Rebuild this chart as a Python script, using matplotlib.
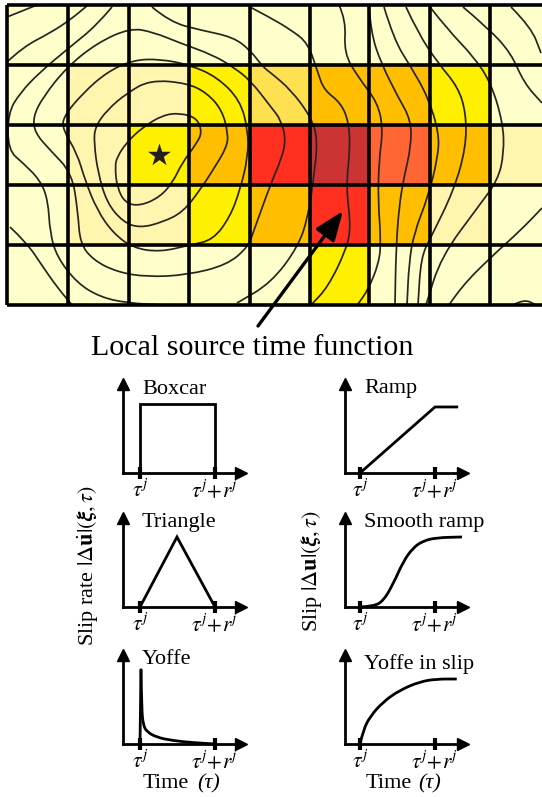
import matplotlib
matplotlib.use('Agg')
import matplotlib.pyplot as plt
from matplotlib.colors import ListedColormap
from matplotlib.patches import PathPatch
from matplotlib.path import Path
import numpy as np

W, H = 542, 797

plt.rcParams['font.family'] = ['Liberation Serif', 'DejaVu Serif']
plt.rcParams['mathtext.fontset'] = 'stix'

# slip patches, cell edges in image pixels
x_edges = [7, 68, 129, 189, 250, 310, 369, 430, 490, 551]
y_edges = [5, 65, 125, 185, 245, 305]
slip_colors = ['#FFFFCC', '#FFF5AE', '#FFF000', '#FFE050', '#FFBE00', '#FF6633', '#FF3020', '#CC3333']
slip_levels = [
	[0, 0, 0, 0, 0, 0, 0, 0, 0],
	[0, 1, 1, 2, 3, 4, 4, 2, 0],
	[0, 1, 2, 4, 6, 7, 5, 4, 1],
	[0, 1, 1, 2, 4, 6, 4, 1, 0],
	[0, 0, 0, 0, 0, 2, 0, 0, 0],
]

# contours, in image pixels
contour_a = [(117, 157), (115, 167), (117, 187), (125, 203), (140, 206), (160, 197), (173, 182), (182, 163),
	(197, 143), (202, 132), (197, 118), (180, 113), (163, 115), (143, 127), (127, 142), (117, 157)]
contour_b = [(95, 127), (94, 143), (98, 173), (107, 203), (123, 222), (140, 228), (163, 222), (183, 212), (200, 190),
	(213, 170), (227, 147), (228, 133), (222, 110), (207, 93), (187, 83), (150, 80), (127, 93), (107, 110), (95, 127)]
contour_c = [(63, 117), (63, 130), (77, 153), (85, 180), (97, 210), (113, 233), (133, 248), (160, 252), (190, 245),
	(213, 240), (230, 217), (240, 190), (248, 157), (248, 130), (240, 100), (217, 77), (190, 65), (160, 59), (133, 60),
	(107, 72), (83, 93), (63, 117)]
contour_d = [(33, 117), (43, 97), (67, 67), (97, 43), (130, 28), (153, 32), (180, 43), (213, 55), (233, 67), (250, 80),
	(271, 107), (281, 120), (286, 140), (281, 160), (271, 183), (253, 233), (248, 247), (227, 265), (187, 275),
	(147, 277), (117, 272), (93, 260), (80, 243), (78, 213), (72, 173), (50, 150), (35, 133), (33, 117)]
contour_e = [(152, 7), (170, 22), (200, 30), (233, 37), (250, 50), (263, 67), (271, 73), (291, 90), (311, 117), (318, 140),
	(313, 183), (308, 217), (298, 247), (271, 283), (237, 303)]
contour_f = [(7, 62), (23, 47), (50, 33), (70, 20), (88, 5)]
contour_g = [(7, 17), (37, 5)]
contour_h = [(112, 7), (97, 25), (70, 47), (40, 72), (20, 93), (8, 113), (8, 150), (23, 163), (40, 180), (48, 200),
	(50, 233), (57, 257), (77, 283), (100, 297), (127, 303), (163, 305)]
contour_i = [(10, 227), (27, 243), (43, 267), (57, 287), (72, 305)]
contour_j = [(250, 7), (271, 18), (291, 30), (308, 43), (318, 73), (324, 90), (341, 103), (349, 123), (350, 150), (346, 187),
	(351, 227), (346, 250), (328, 287), (311, 305)]
contour_k = [(339, 5), (346, 20), (344, 53), (358, 77), (378, 103), (383, 130), (379, 160), (378, 200), (381, 240),
	(379, 263), (368, 290), (358, 304)]
contour_l = [(369, 7), (371, 33), (381, 63), (398, 97), (411, 120), (411, 147), (404, 177), (399, 207), (396, 250), (395, 305)]
contour_m = [(384, 7), (394, 40), (411, 67), (428, 97), (439, 133), (438, 157), (428, 197), (414, 233), (409, 263), (407, 305)]
contour_n = [(406, 7), (418, 33), (438, 63), (458, 87), (466, 113), (466, 147), (454, 190), (431, 237), (421, 257), (418, 305)]
contour_o = [(430, 7), (448, 30), (474, 57), (491, 83), (503, 123), (504, 153), (498, 180), (478, 207), (441, 257), (426, 305)]
contour_p = [(463, 7), (488, 28), (511, 53), (524, 83), (542, 103)]
contour_q = [(511, 7), (531, 27), (541, 53)]
contour_r = [(449, 305), (461, 287), (491, 257), (521, 230), (542, 208)]
contour_s = [(513, 305), (524, 299), (536, 305)]
contours = [contour_a, contour_b, contour_c, contour_d, contour_e, contour_f, contour_g, contour_h, contour_i,
	contour_j, contour_k, contour_l, contour_m, contour_n, contour_o, contour_p, contour_q, contour_r, contour_s]

# source time functions, tau in units of rise time
boxcar_t = [0, 0, 1, 1]
boxcar_v = [0, 0.726, 0.726, 0]
triangle_t = [0, 0.493, 1]
triangle_v = [0, 0.737, 0]
ramp_t = [0, 1, 1.29]
ramp_v = [0, 0.695, 0.695]
smooth_t = [0, 0.18, 0.31, 0.44, 0.58, 0.71, 0.84, 1.02, 1.36]
smooth_v = [0, 0.007, 0.063, 0.239, 0.484, 0.625, 0.695, 0.73, 0.737]
yoffe_t = [0.013, 0.022, 0.044, 0.089, 0.222, 0.444, 0.711, 1]
yoffe_v = [0.779, 0.358, 0.2, 0.13, 0.07, 0.035, 0.014, 0]
yoffe_slip_t = [0, 0.044, 0.133, 0.311, 0.533, 0.8, 1.02, 1.29]
yoffe_slip_v = [0, 0.147, 0.288, 0.446, 0.568, 0.656, 0.684, 0.684]

tick_labels = [r'$\tau^{j}$', r'$\tau^{j}\!+\!r^{j}$']


def px_axes(fig, left, top, right, bottom):
	return fig.add_axes([left / W, 1 - bottom / H, (right - left) / W, (bottom - top) / H])


def smooth_path(pts):
	# quadratic curves through the midpoints of the traced points
	pts = np.asarray(pts, dtype=float)
	closed = np.allclose(pts[0], pts[-1])
	mids = (pts[:-1] + pts[1:]) / 2
	if closed:
		verts = [mids[-1]]
		codes = [Path.MOVETO]
		for i in range(len(mids)):
			verts += [pts[i], mids[i]]
			codes += [Path.CURVE3, Path.CURVE3]
	else:
		verts = [pts[0]]
		codes = [Path.MOVETO]
		for i in range(1, len(pts) - 1):
			verts += [pts[i], mids[i]]
			codes += [Path.CURVE3, Path.CURVE3]
		verts.append(pts[-1])
		codes.append(Path.LINETO)
	return Path(verts, codes)


def plot_map(fig):
	ax = px_axes(fig, 4, 2, W, 308)
	ax.set_xlim(4, W)
	ax.set_ylim(308, 2)
	ax.axis('off')
	cmap = ListedColormap(slip_colors)
	ax.pcolormesh(x_edges, y_edges, slip_levels, cmap=cmap, vmin=-0.5, vmax=len(slip_colors) - 0.5)
	for c in contours:
		ax.add_patch(PathPatch(smooth_path(c), fill=False, ec='#2A2420', lw=1.25))
	ax.vlines(x_edges, y_edges[0], y_edges[-1], color='k', lw=2.6)
	ax.hlines(y_edges, x_edges[0], x_edges[-1], color='k', lw=2.6)
	ax.scatter([159], [155], marker='*', s=300, c='#231F20', linewidths=0, zorder=5)
	ax.annotate('', xy=(343, 211), xytext=(258, 326), annotation_clip=False,
		arrowprops=dict(arrowstyle='-|>,head_length=18,head_width=7', mutation_scale=1,
		shrinkA=0, shrinkB=0, lw=2.4, color='k'))


def plot_stf(fig, x0, y0, tick0, t, v, title, title_y=84, smooth=False):
	# x0, y0 is the origin in image pixels, rise time is 75 px, axes 118 x 89 px
	ax = px_axes(fig, x0, y0 - 89, x0 + 118, y0)
	ax.patch.set_alpha(0)
	ax.set_xlim(-tick0 / 75, (118 - tick0) / 75)
	ax.set_ylim(0, 89 / 95)
	for s in ['top', 'right']:
		ax.spines[s].set_visible(False)
	for s in ['left', 'bottom']:
		ax.spines[s].set_linewidth(2.0)
	ax.plot(1, 0, '>k', transform=ax.transAxes, clip_on=False, ms=9)
	ax.plot(0, 1, '^k', transform=ax.transAxes, clip_on=False, ms=9)
	ax.set_yticks([])
	ax.set_xticks([0, 1])
	ax.set_xticklabels(tick_labels, fontsize=15.5)
	ax.tick_params(axis='x', direction='inout', length=8, width=3, pad=1)
	if smooth:
		ax.add_patch(PathPatch(smooth_path(list(zip(t, v))), fill=False, ec='k', lw=2.0, clip_on=False))
	else:
		ax.plot(t, v, color='k', lw=2.0, clip_on=False, solid_joinstyle='miter')
	ax.text(19 / 118, title_y / 89, title, transform=ax.transAxes, fontsize=16, ha='left', va='center')
	return ax


def main():
	fig = plt.figure(figsize=(W / 100, H / 100), dpi=100, facecolor='w')
	plot_map(fig)
	fig.text(252 / W, 1 - 348 / H, 'Local source time function', fontsize=21.6, ha='center', va='center')

	plot_stf(fig, 123, 473, 17, boxcar_t, boxcar_v, 'Boxcar')
	plot_stf(fig, 123, 607, 17, triangle_t, triangle_v, 'Triangle')
	yoffe = plot_stf(fig, 123, 744, 17, yoffe_t, yoffe_v, 'Yoffe', smooth=True)
	yoffe.plot([0, yoffe_t[0]], [0, yoffe_v[0]], color='k', lw=2.0)
	plot_stf(fig, 345, 473, 15, ramp_t, ramp_v, 'Ramp')
	plot_stf(fig, 345, 607, 15, smooth_t, smooth_v, 'Smooth ramp', smooth=True)
	plot_stf(fig, 345, 744, 15, yoffe_slip_t, yoffe_slip_v, 'Yoffe in slip', title_y=80, smooth=True)

	for x, x2 in [(143, 197), (366, 418)]:
		fig.text(x / W, 1 - 784 / H, 'Time', fontsize=16, ha='left', va='center')
		fig.text(x2 / W, 1 - 784 / H, '(\u03c4)', fontsize=16, style='italic', ha='left', va='center')
	fig.text(88 / W, 1 - 566 / H, r'Slip rate $|\Delta\dot{\mathbf{u}}|(\boldsymbol{\xi},\tau)$',
		fontsize=16, rotation=90, ha='center', va='center')
	fig.text(312 / W, 1 - 571 / H, r'Slip $|\Delta\mathbf{u}|(\boldsymbol{\xi},\tau)$',
		fontsize=16, rotation=90, ha='center', va='center')
	fig.savefig('out.png', dpi=100)


if __name__ == '__main__':
	main()
